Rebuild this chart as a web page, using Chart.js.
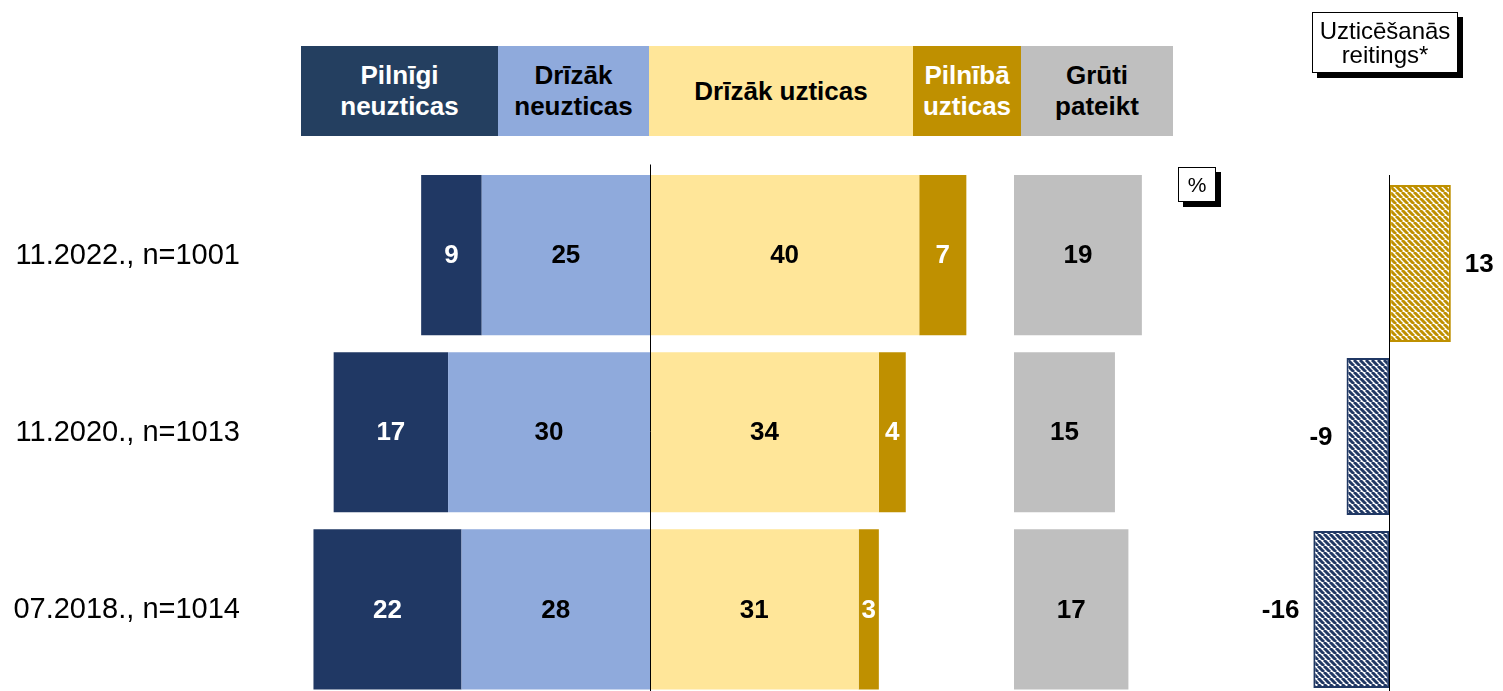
<!DOCTYPE html>
<html>
<head>
<meta charset="utf-8">
<script src="https://cdn.jsdelivr.net/npm/chart.js@4.4.0/dist/chart.umd.min.js"></script>
<style>
  body { margin: 0; width: 1503px; height: 691px; overflow: hidden; background: #fff; position: relative;
         font-family: "Liberation Sans", Arial, sans-serif; }
  canvas { position: absolute; top: 0; }
  .galva { position: absolute; top: 46px; height: 90px; display: flex; align-items: center; justify-content: center;
           text-align: center; font-weight: bold; font-size: 26px; line-height: 31px; }
  .rami { position: absolute; background: #fff; border: 1px solid #000; box-shadow: 5px 5px 0 #000;
          display: flex; align-items: center; justify-content: center; text-align: center; color: #000; }
</style>
</head>
<body>
<canvas id="galvenais" width="1000" height="698" style="left:0"></canvas>
<canvas id="gruti" width="170" height="698" style="left:1014px"></canvas>
<canvas id="reitings" width="275" height="696" style="left:1228px"></canvas>

<div class="galva" style="left:301px;width:197px;background:#243F60;color:#fff">Pilnīgi<br>neuzticas</div>
<div class="galva" style="left:498px;width:151px;background:#8FAADC;color:#000">Drīzāk<br>neuzticas</div>
<div class="galva" style="left:649px;width:264px;background:#FFE699;color:#000">Drīzāk uzticas</div>
<div class="galva" style="left:913px;width:108px;background:#BF9000;color:#fff">Pilnībā<br>uzticas</div>
<div class="galva" style="left:1021px;width:152px;background:#BFBFBF;color:#000">Grūti<br>pateikt</div>

<div class="rami" style="left:1178px;top:167px;width:36px;height:33px;font-size:21px">%</div>
<div class="rami" style="left:1312px;top:12px;width:144px;height:59px;font-size:24px;line-height:24px">Uzticēšanās<br>reitings*</div>

<script>
// --- dati ---
const periodi = ["11.2022., n=1001", "11.2020., n=1013", "07.2018., n=1014"];
const pilnigiNeuzticas = [9, 17, 22];
const drizakNeuzticas = [25, 30, 28];
const drizakUzticas = [40, 34, 31];
const pilnibaUzticas = [7, 4, 3];
const grutiPateikt = [19, 15, 17];
const reitingi = [13, -9, -16];

const TUMSI_ZILS = "#203864";
const GAISI_ZILS = "#8FAADC";
const DZELTENS = "#FFE699";
const ZELTS = "#BF9000";
const PELEKS = "#BFBFBF";
const FONTS = '"Liberation Sans", Arial, sans-serif';

Chart.defaults.animation = false;
Chart.defaults.responsive = false;
Chart.defaults.devicePixelRatio = 1;
Chart.defaults.plugins.legend.display = false;
Chart.defaults.plugins.tooltip.enabled = false;

// vērtības uz stabiņiem, nulles līnija, periodu nosaukumi
const etiketes = {
  id: "etiketes",
  afterDatasetsDraw(chart, args, opts) {
    const ctx = chart.ctx;
    ctx.save();
    if (opts.nullesLinija) {
      const x0 = Math.round(chart.scales.x.getPixelForValue(0)) + 0.5;
      ctx.strokeStyle = "#000";
      ctx.lineWidth = 1;
      ctx.beginPath();
      ctx.moveTo(x0, chart.chartArea.top - 2);
      ctx.lineTo(x0, chart.chartArea.bottom);
      ctx.stroke();
    }
    if (opts.kategorijas) {
      ctx.font = "29px " + FONTS;
      ctx.fillStyle = "#000";
      ctx.textAlign = "right";
      ctx.textBaseline = "middle";
      chart.data.labels.forEach((l, i) => {
        ctx.fillText(l, 240, chart.scales.y.getPixelForValue(i) + 1);
      });
    }
    ctx.font = "bold 26px " + FONTS;
    ctx.textBaseline = "middle";
    chart.data.datasets.forEach((ds, i) => {
      chart.getDatasetMeta(i).data.forEach((bar, j) => {
        const v = ds.data[j];
        const p = bar.getProps(["x", "y", "base"], true);
        ctx.fillStyle = ds.labelColor || "#000";
        if (opts.arpus) {
          ctx.textAlign = v >= 0 ? "left" : "right";
          ctx.fillText(String(v), p.x + (v >= 0 ? 14 : -14), p.y + 1);
        } else {
          ctx.textAlign = "center";
          ctx.fillText(String(Math.abs(v)), (p.x + p.base) / 2, p.y + 1);
        }
      });
    });
    ctx.restore();
  }
};

function svitrojums(krasa) {
  const c = document.createElement("canvas");
  c.width = 6; c.height = 6;
  const g = c.getContext("2d");
  g.fillStyle = "#fff";
  g.fillRect(0, 0, 6, 6);
  g.strokeStyle = krasa;
  g.lineWidth = 3;
  g.beginPath();
  for (let k = -6; k <= 6; k += 6) { g.moveTo(k, 0); g.lineTo(k + 6, 6); }
  g.stroke();
  return g.createPattern(c, "repeat");
}

const stabs = { categoryPercentage: 0.904, barPercentage: 1, borderWidth: 0 };

new Chart(document.getElementById("galvenais"), {
  type: "bar",
  data: {
    labels: periodi,
    datasets: [
      { label: "Drīzāk neuzticas", data: drizakNeuzticas.map(v => -v), backgroundColor: GAISI_ZILS, labelColor: "#000", ...stabs },
      { label: "Pilnīgi neuzticas", data: pilnigiNeuzticas.map(v => -v), backgroundColor: TUMSI_ZILS, labelColor: "#fff", ...stabs },
      { label: "Drīzāk uzticas", data: drizakUzticas, backgroundColor: DZELTENS, labelColor: "#000", ...stabs },
      { label: "Pilnībā uzticas", data: pilnibaUzticas, backgroundColor: ZELTS, labelColor: "#fff", ...stabs }
    ]
  },
  options: {
    indexAxis: "y",
    layout: { padding: { top: 166.5, left: 300, right: 0, bottom: 0 } },
    scales: {
      x: { stacked: true, min: -52, max: 52, display: false },
      y: { stacked: true, display: false }
    },
    plugins: { etiketes: { nullesLinija: true, kategorijas: true } }
  },
  plugins: [etiketes]
});

new Chart(document.getElementById("gruti"), {
  type: "bar",
  data: {
    labels: periodi,
    datasets: [
      { label: "Grūti pateikt", data: grutiPateikt, backgroundColor: PELEKS, labelColor: "#000", ...stabs }
    ]
  },
  options: {
    indexAxis: "y",
    layout: { padding: { top: 166.5, left: 0, right: 0, bottom: 0 } },
    scales: {
      x: { min: 0, max: 170 / 6.73, display: false },
      y: { display: false }
    }
  },
  plugins: [etiketes]
});

new Chart(document.getElementById("reitings"), {
  type: "bar",
  data: {
    labels: periodi,
    datasets: [{
      label: "Uzticēšanās reitings",
      data: reitingi,
      backgroundColor: reitingi.map(v => svitrojums(v >= 0 ? ZELTS : TUMSI_ZILS)),
      borderColor: reitingi.map(v => v >= 0 ? ZELTS : TUMSI_ZILS),
      borderWidth: 2,
      borderSkipped: false,
      categoryPercentage: 0.9075,
      barPercentage: 1,
      labelColor: "#000"
    }]
  },
  options: {
    indexAxis: "y",
    layout: { padding: { top: 177, left: 0, right: 0, bottom: 0 } },
    scales: {
      x: { min: -34, max: 24, display: false },
      y: { display: false }
    },
    plugins: { etiketes: { nullesLinija: true, arpus: true } }
  },
  plugins: [etiketes]
});
</script>
</body>
</html>
